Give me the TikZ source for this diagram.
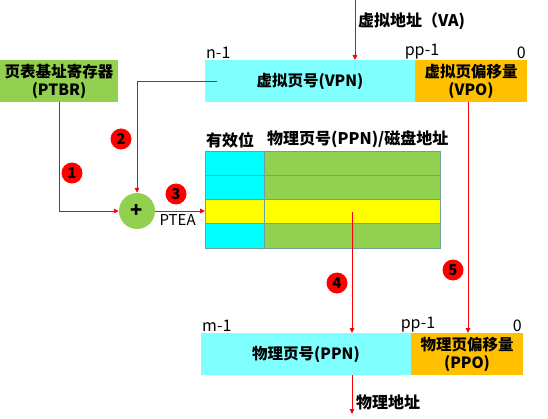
\documentclass[tikz,border=0pt]{standalone}
\usepackage{fontspec}
\setmainfont{Noto Sans CJK SC}
\usetikzlibrary{arrows.meta,positioning,calc}
\definecolor{boxgreen}{HTML}{92D050}
\definecolor{boxcyan}{HTML}{80FFFF}
\definecolor{boxorange}{HTML}{FFC000}
\definecolor{cellcyan}{HTML}{00FFFF}
\definecolor{cellyellow}{HTML}{FFFF00}
\definecolor{gridline}{HTML}{6E9E9E}
\tikzset{
    flow/.style={-{Triangle[length=5pt, width=4.5pt]}, red, line width=0.9pt},
    badge/.style={circle, fill=red, minimum size=21pt, inner sep=0pt, font=\fontsize{15}{15}\selectfont\bfseries},
    bitlabel/.style={font=\fontsize{16}{16}\selectfont, inner sep=1pt}
}

\begin{document}
\begin{tikzpicture}[
            x=1pt, y=-1pt,
            field/.style={rectangle, minimum height=42pt, inner sep=0pt, outer sep=0pt, align=center, font=\fontsize{15.5}{18}\selectfont\bfseries},
            cell/.style={rectangle, draw=gridline, line width=0.6pt, minimum height=24.25pt, inner sep=0pt, outer sep=0pt},
            header/.style={font=\fontsize{16}{16}\selectfont\bfseries, inner sep=1pt, anchor=south west}
        ]
            \useasboundingbox (0,0) rectangle (548,419);

            % Page table base register
            \node[field, fill=boxgreen, minimum width=118pt, anchor=north west] (ptbr) at (0,60) {页表基址寄存器\\(PTBR)};

            % Virtual address
            \node[field, fill=boxcyan, minimum width=210pt, anchor=north west] (vpn) at (205,60) {虚拟页号(VPN)};
            \node[field, fill=boxorange, minimum width=112pt, right=0pt of vpn] (vpo) {虚拟页偏移量\\(VPO)};
            \node[bitlabel, anchor=south west] (vn) at (vpn.north west) {n-1};
            \node[bitlabel, anchor=south, xshift=7pt] (vp) at (vpo.north west) {pp-1};
            \node[bitlabel, anchor=south east] (vz) at (vpo.north east) {0};

            \coordinate (va) at (355,0);
            \node[header, anchor=west] (valabel) at (357,21) {虚拟地址（VA)};

            % Adder
            \node[circle, fill=boxgreen, minimum size=36pt, inner sep=0pt, font=\fontsize{20}{20}\selectfont\bfseries] (plus) at (137,211) {+};

            % Page table
            \foreach \i/\vc/\pc in {1/cellcyan/boxgreen, 2/cellcyan/boxgreen, 3/cellyellow/cellyellow, 4/cellcyan/boxgreen} {
                \node[cell, fill=\vc, minimum width=59pt, anchor=north west] (v\i) at (205, {151+24.25*(\i-1)}) {};
                \node[cell, fill=\pc, minimum width=176pt, right=0pt of v\i] (p\i) {};
            }
            \node[header] (hvalid) at ([yshift=2pt]v1.north west) {有效位};
            \node[header] (hppn) at ([xshift=2pt, yshift=2pt]p1.north west) {物理页号(PPN)/磁盘地址};

            % Physical address
            \node[field, fill=boxcyan, minimum width=210pt, anchor=north west] (ppn) at (201,333) {物理页号(PPN)};
            \node[field, fill=boxorange, minimum width=112pt, right=0pt of ppn] (ppo) {物理页偏移量\\(PPO)};
            \node[bitlabel, anchor=south west] (pm) at (ppn.north west) {m-1};
            \node[bitlabel, anchor=south, xshift=7pt] (pp) at (ppo.north west) {pp-1};
            \node[bitlabel, anchor=south east] (pz) at (ppo.north east) {0};

            \coordinate (pa) at (352,414);
            \node[header, anchor=west] (palabel) at (355,402) {物理地址};

            % Arrows
            \draw[flow] (va) -- (va |- vpn.north);
            \draw[flow] (ptbr.south) |- (plus.west);
            \draw[flow] ([xshift=12pt]vpn.west) -| (plus.north);
            \draw[flow] (plus.east) -- (plus.east -| v3.west) node[below, pos=0.45, text=black, font=\fontsize{15}{15}\selectfont] (ptea) {PTEA};
            \draw[flow] (p3.center) -- (p3.center |- ppn.north);
            \draw[flow] ([xshift=-3pt]vpo.south) -- ([xshift=-3pt]vpo.south |- ppo.north);
            \draw[flow] (p3.center |- ppn.south) -- (pa);

            % Steps
            \node[badge] (b1) at (72,173) {1};
            \node[badge] (b2) at (121,139) {2};
            \node[badge] (b3) at (176,194) {3};
            \node[badge] (b4) at (337,283) {4};
            \node[badge] (b5) at (453,270) {5};
        \end{tikzpicture}
\end{document}
